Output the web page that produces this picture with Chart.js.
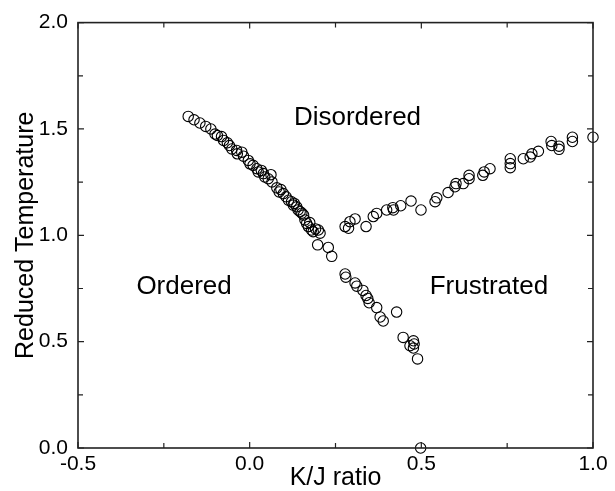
<!DOCTYPE html>
<html>
<head>
<meta charset="utf-8">
<script src="https://cdn.jsdelivr.net/npm/chart.js@4.4.0/dist/chart.umd.min.js"></script>
<style>
  html, body { margin: 0; padding: 0; background: #fff; }
  #wrap { width: 615px; height: 491px; }
</style>
</head>
<body>
<div id="wrap"><canvas id="c" width="615" height="491"></canvas></div>
<script>
// ---- Data ----
// Ordered / Disordered boundary
const odX = [-0.179, -0.162, -0.145, -0.128, -0.113, -0.101, -0.094, -0.082, -0.076, -0.065,
             -0.059, -0.052, -0.038, -0.036, -0.023, -0.018, -0.004, 0.001, 0.010, 0.021,
             0.025, 0.040, 0.044, 0.054, 0.062, 0.065, 0.079, 0.086, 0.098, 0.106,
             0.113, 0.122, 0.127, 0.137, 0.141, 0.147, 0.157, 0.161, 0.166, 0.171,
             0.180, 0.185, 0.200, 0.205, 0.130, 0.152, 0.175, 0.192, 0.091, 0.034];
const odY = [1.559, 1.543, 1.528, 1.512, 1.500, 1.476, 1.469, 1.464, 1.446, 1.435,
             1.422, 1.406, 1.399, 1.383, 1.391, 1.372, 1.352, 1.336, 1.329, 1.313,
             1.298, 1.290, 1.274, 1.266, 1.285, 1.251, 1.223, 1.204, 1.196, 1.181,
             1.165, 1.158, 1.142, 1.134, 1.119, 1.111, 1.095, 1.072, 1.056, 1.041,
             1.025, 1.017, 1.025, 1.010, 1.150, 1.104, 1.060, 1.030, 1.215, 1.305];
// Ordered / Frustrated boundary
const ofX = [0.198, 0.229, 0.239, 0.278, 0.280, 0.307, 0.312, 0.330, 0.339, 0.344,
             0.348, 0.370, 0.380, 0.389, 0.428, 0.447, 0.467, 0.477, 0.479, 0.477, 0.489];
const ofY = [0.955, 0.943, 0.901, 0.818, 0.803, 0.776, 0.761, 0.741, 0.717, 0.703,
             0.683, 0.660, 0.616, 0.597, 0.639, 0.520, 0.481, 0.504, 0.489, 0.470, 0.419];
// Frustrated / Disordered boundary
const fdX = [0.278, 0.292, 0.307, 0.288, 0.339, 0.360, 0.370, 0.399, 0.417, 0.419,
             0.440, 0.470, 0.499, 0.540, 0.545, 0.578, 0.598, 0.601, 0.622, 0.639,
             0.639, 0.679, 0.683, 0.700, 0.759, 0.759, 0.759, 0.797, 0.817, 0.822,
             0.841, 0.878, 0.880, 0.901, 0.901, 0.940, 0.940, 1.000];
const fdY = [1.041, 1.064, 1.077, 1.033, 1.041, 1.088, 1.103, 1.119, 1.130, 1.119,
             1.139, 1.161, 1.119, 1.158, 1.176, 1.201, 1.228, 1.243, 1.243, 1.266,
             1.282, 1.282, 1.298, 1.313, 1.360, 1.337, 1.318, 1.360, 1.368, 1.383,
             1.395, 1.441, 1.422, 1.419, 1.404, 1.461, 1.441, 1.461];
// Point on the axis
const zeroX = [0.498];
const zeroY = [0.0];

const xTickValues = [-0.5, 0.0, 0.5, 1.0];
const yTickValues = [0.0, 0.5, 1.0, 1.5, 2.0];
const regionLabels = ['Disordered', 'Ordered', 'Frustrated'];
const regionLabelX = [0.314, -0.191, 0.697];
const regionLabelY = [1.551, 0.757, 0.757];

const FONT = '"Liberation Sans", Arial, Helvetica, sans-serif';

function pts(xs, ys) { return xs.map((x, i) => ({ x: x, y: ys[i] })); }

function ds(xs, ys) {
  return {
    data: pts(xs, ys),
    showLine: false,
    pointStyle: 'circle',
    pointRadius: 5.2,
    pointHoverRadius: 5.2,
    pointBorderWidth: 1.1,
    pointBorderColor: '#000',
    pointBackgroundColor: 'rgba(0,0,0,0)',
    clip: false
  };
}

const framePlugin = {
  id: 'frame',
  afterDatasetsDraw(chart) {
    const { ctx, chartArea: a, scales } = chart;
    const xs = scales.x, ys = scales.y;
    ctx.save();
    ctx.strokeStyle = '#222';
    ctx.lineWidth = 1.6;
    ctx.strokeRect(a.left, a.top, a.right - a.left, a.bottom - a.top);
    ctx.lineWidth = 1.2;
    ctx.beginPath();
    for (let k = 0; k <= 6; k++) {
      const v = -0.5 + k * 0.25;
      const p = xs.getPixelForValue(v);
      const len = (k % 2 === 0) ? 6 : 5;
      ctx.moveTo(p, a.bottom); ctx.lineTo(p, a.bottom - len);
      ctx.moveTo(p, a.top); ctx.lineTo(p, a.top + len);
    }
    for (let k = 0; k <= 8; k++) {
      const v = k * 0.25;
      const p = ys.getPixelForValue(v);
      const len = (k % 2 === 0) ? 6 : 5;
      ctx.moveTo(a.left, p); ctx.lineTo(a.left + len, p);
      ctx.moveTo(a.right, p); ctx.lineTo(a.right - len, p);
    }
    ctx.stroke();
    // region labels
    ctx.fillStyle = '#000';
    ctx.font = '26px ' + FONT;
    ctx.textAlign = 'center';
    ctx.textBaseline = 'middle';
    regionLabels.forEach((t, i) => {
      ctx.fillText(t, xs.getPixelForValue(regionLabelX[i]), ys.getPixelForValue(regionLabelY[i]));
    });
    ctx.restore();
  }
};

new Chart(document.getElementById('c'), {
  type: 'scatter',
  data: {
    datasets: [ds(odX, odY), ds(ofX, ofY), ds(fdX, fdY), ds(zeroX, zeroY)]
  },
  options: {
    responsive: false,
    animation: false,
    events: [],
    layout: { padding: { left: 0, right: 22, top: 20, bottom: 0 } },
    plugins: { legend: { display: false }, tooltip: { enabled: false } },
    scales: {
      x: {
        type: 'linear',
        min: -0.5, max: 1.0,
        afterBuildTicks(s) { s.ticks = xTickValues.map(v => ({ value: v })); },
        afterFit(s) { s.height = 43; },
        grid: { display: false, drawTicks: false },
        border: { display: false },
        ticks: {
          color: '#000', padding: 4,
          font: { family: FONT, size: 21 },
          maxRotation: 0, autoSkip: false,
          callback: v => Number(v).toFixed(1)
        },
        title: {
          display: true, text: 'K/J ratio', color: '#000',
          font: { family: FONT, size: 25, lineHeight: 1.0 },
          padding: { top: 0, bottom: 0 }
        }
      },
      y: {
        type: 'linear',
        min: 0, max: 2.0,
        afterBuildTicks(s) { s.ticks = yTickValues.map(v => ({ value: v })); },
        afterFit(s) { s.width = 78; },
        grid: { display: false, drawTicks: false },
        border: { display: false },
        ticks: {
          color: '#000', padding: 10,
          font: { family: FONT, size: 21 },
          autoSkip: false,
          callback: v => Number(v).toFixed(1)
        },
        title: {
          display: true, text: 'Reduced Temperature', color: '#000',
          font: { family: FONT, size: 25, lineHeight: 1.0 },
          padding: { top: 14, bottom: 0 }
        }
      }
    }
  },
  plugins: [framePlugin]
});
</script>
</body>
</html>
